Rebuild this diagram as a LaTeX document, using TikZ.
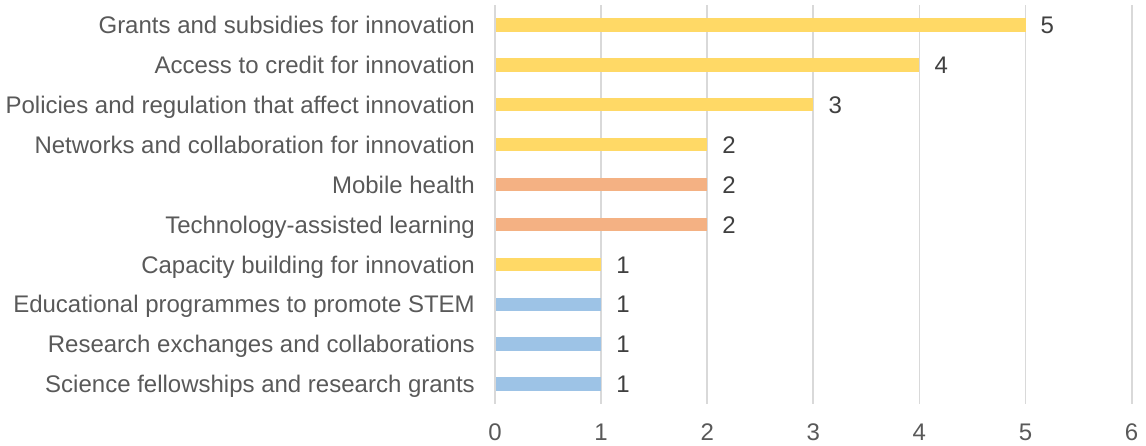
\documentclass[tikz,border=0pt]{standalone}
\usepackage{fontspec}
\setmainfont{Liberation Sans}
\definecolor{barYellow}{HTML}{FFD966}
\definecolor{barOrange}{HTML}{F4B183}
\definecolor{barBlue}{HTML}{9DC3E6}
\definecolor{gridc}{HTML}{D9D9D9}
\definecolor{labc}{HTML}{595959}
\definecolor{valc}{HTML}{404040}
\begin{document}
\begin{tikzpicture}[x=1pt,y=-1pt,
  catlabel/.style={anchor=base east,inner sep=0pt,text=labc,font=\fontsize{24}{28}\selectfont},
  vallabel/.style={anchor=base west,inner sep=0pt,text=valc,font=\fontsize{24}{28}\selectfont},
  ticklabel/.style={anchor=base,inner sep=0pt,text=labc,font=\fontsize{24}{28}\selectfont},
  gridline/.style={draw=gridc,line width=1.8pt}]
\useasboundingbox (0,0) rectangle (1146,445);
% grid lines
\foreach \k in {0,...,6}{
  \coordinate (gt\k) at ({495+106.1*\k},5);
  \coordinate (gb\k) at ({495+106.1*\k},404);
  \draw[gridline] (gt\k) -- (gb\k);
  \node[ticklabel] (tick\k) at ({495+106.1*\k},440.7) {\k};
}
% bars
\foreach \i/\v/\c/\t in {
  0/5/barYellow/Grants and subsidies for innovation,
  1/4/barYellow/Access to credit for innovation,
  2/3/barYellow/Policies and regulation that affect innovation,
  3/2/barYellow/Networks and collaboration for innovation,
  4/2/barOrange/Mobile health,
  5/2/barOrange/Technology-assisted learning,
  6/1/barYellow/Capacity building for innovation,
  7/1/barBlue/Educational programmes to promote STEM,
  8/1/barBlue/Research exchanges and collaborations,
  9/1/barBlue/Science fellowships and research grants}{
  \pgfmathsetmacro{\yc}{24.95+39.9*\i}
  \pgfmathsetmacro{\xe}{495+106.1*\v}
  \fill[fill=\c] (496.2,\yc-6.7) rectangle (\xe,\yc+6.7);
  \node[catlabel] (cat\i) at (475,\yc+8.7) {\t};
  \node[vallabel] (val\i) at (\xe+15,\yc+8.7) {\v};
}
\end{tikzpicture}
\end{document}
